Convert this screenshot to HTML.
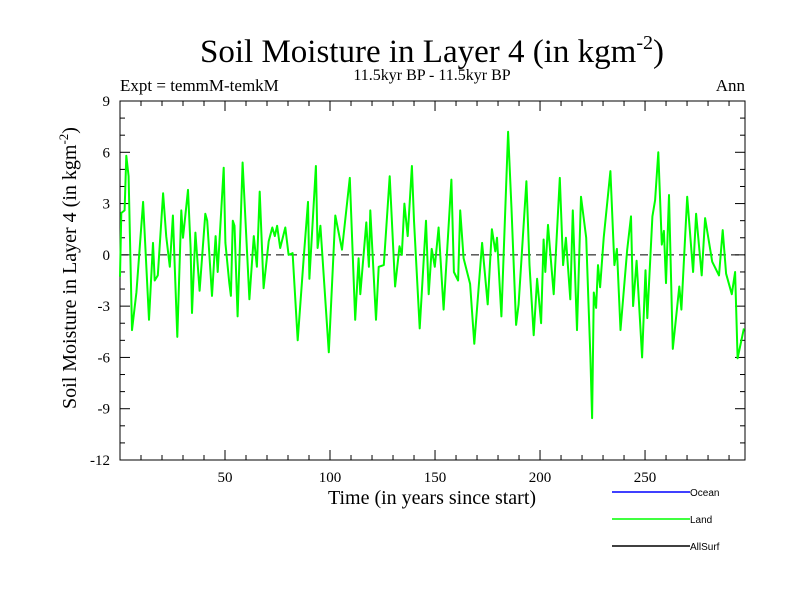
<!DOCTYPE html>
<html><head><meta charset="utf-8"><style>
body{margin:0;background:#fff}
svg text{font-family:"Liberation Serif",serif}
</style></head><body>
<svg id="c" width="800" height="600" xmlns="http://www.w3.org/2000/svg">
<text x="432" y="62" font-size="33" text-anchor="middle">Soil Moisture in Layer 4 (in kgm<tspan dy="-13" font-size="20">-2</tspan><tspan dy="13">)</tspan></text>
<text x="120" y="91" font-size="17">Expt = temmM-temkM</text>
<text x="432" y="80" font-size="16" text-anchor="middle">11.5kyr BP - 11.5kyr BP</text>
<text x="745" y="91" font-size="17" text-anchor="end">Ann</text>
<text transform="translate(76,268) rotate(-90)" font-size="20" text-anchor="middle">Soil Moisture in Layer 4 (in kgm<tspan dy="-8" font-size="13">-2</tspan><tspan dy="8">)</tspan></text>
<text x="432" y="504" font-size="20" text-anchor="middle">Time (in years since start)</text>
<g id="axes"></g>
<g id="series"></g>
<g font-family="Liberation Sans, sans-serif">
<line x1="612" y1="492" x2="690" y2="492" stroke="#0000ff" stroke-width="1.5"/>
<text x="690" y="496" font-size="10" style="font-family:'Liberation Sans',sans-serif">Ocean</text>
<line x1="612" y1="519" x2="690" y2="519" stroke="#00ff00" stroke-width="1.5"/>
<text x="690" y="523" font-size="10" style="font-family:'Liberation Sans',sans-serif">Land</text>
<line x1="612" y1="546" x2="690" y2="546" stroke="#000" stroke-width="1.5"/>
<text x="690" y="550" font-size="10" style="font-family:'Liberation Sans',sans-serif">AllSurf</text>
</g>
</svg>
<script>
const years=[0,0.6,2.2,3,4.1,5.7,7.8,11,13.8,15.7,16.5,18,20.5,22,23.7,25.2,27.3,29.2,30,32.4,33.6,34.3,35.9,37.9,40.6,41.5,43.8,45.5,46.5,49.4,50.2,52,52.8,53.7,54.5,56,58.4,61.6,63.7,65.2,66.5,68.4,70.8,72.5,73.7,74.8,76.3,78.7,80.3,82.2,84.6,87.5,89.5,90.2,93.3,94.1,95.4,99.4,102.5,105.7,109.4,112,113.6,114.4,117.3,118.5,119.2,121.9,123.2,125.6,128.4,131,133.1,134.2,135.4,137,139,140,142.7,145.7,147,148.4,149.9,151.7,154.1,157.8,159,161,162,163.6,166.7,168.7,172.4,175.1,177.1,178.7,179.5,181.6,184.8,186.4,188.6,189.8,193.5,195,197,198.6,200.5,201.7,202.5,203.8,206.5,209.4,211,212.3,214.4,215.6,217.6,219.5,222,224,224.8,225.6,226.7,227.6,228.6,230.3,233.5,235.4,236.6,238.3,241.5,243.3,244.3,246,248.6,250.2,251.1,253.5,254.8,256.3,258,259,260,261.4,263.2,266.3,267.3,270.1,272.9,274.3,277,278.6,282,285.2,287,288.6,291.3,292.9,294.1,297.1];
const landValues=[-1.27,2.45,2.6,5.8,4.6,-4.4,-2.2,3.1,-3.8,0.7,-1.5,-1.2,3.6,1.1,-0.7,2.3,-4.8,2.6,1.0,3.8,0.4,-3.4,1.3,-2.1,2.4,2.0,-2.4,1.1,-1.0,5.1,0.7,-1.6,-2.4,2.0,1.7,-3.6,5.4,-2.6,1.1,-0.7,3.7,-1.95,0.8,1.6,1.1,1.7,0.4,1.6,0,0.1,-5.0,-0.1,3.1,-1.4,5.2,0.4,1.7,-5.7,2.3,0.3,4.5,-3.8,-0.2,-2.3,1.9,-0.7,2.6,-3.8,-0.7,-0.6,4.6,-1.85,0.5,0,3.0,1.1,5.2,2.0,-4.3,2.0,-2.3,0.35,-0.7,1.6,-3.2,4.4,-1.0,-1.5,2.6,-0.2,-1.7,-5.2,0.7,-2.9,1.5,0.2,1.0,-3.6,7.2,2.7,-4.1,-2.9,4.3,-0.6,-4.7,-1.4,-4.0,0.9,-1.0,1.75,-2.3,4.5,-0.6,1.0,-2.6,2.6,-4.4,3.4,1.0,-6.0,-9.55,-2.2,-3.1,-0.6,-1.9,1.0,4.9,-0.6,0.35,-4.4,0.3,2.25,-3.0,-0.35,-6.0,-0.9,-3.7,2.25,3.2,6.0,0.6,1.4,-1.65,3.5,-5.5,-1.85,-3.2,3.4,-1.0,2.4,-1.2,2.15,-0.4,-1.2,1.45,-1.1,-2.3,-1.0,-6.05,-4.3];
const yTicks=[-12,-9,-6,-3,0,3,6,9];
const xTicks=[50,100,150,200,250];
const NS='http://www.w3.org/2000/svg';
const L=120,R=745,T=101,B=460,X0=0,X1=297.6,Y0=-12,Y1=9;
const sx=v=>L+(v-X0)/(X1-X0)*(R-L);
const sy=v=>B-(v-Y0)/(Y1-Y0)*(B-T);
const ax=document.getElementById('axes');
function mk(tag,attrs,parent){const e=document.createElementNS(NS,tag);for(const k in attrs)e.setAttribute(k,attrs[k]);parent.appendChild(e);return e;}
const frame=mk('rect',{x:L,y:T,width:R-L,height:B-T,fill:'none',stroke:'#000','stroke-width':1},ax);


for(let v=Y0;v<=Y1;v++){const big=(v%3===0);const y=sy(v);
 const t1=mk('line',{x1:L,x2:L+(big?10:5),y1:y,y2:y,stroke:'#000'},ax);
 
 
 const t2=mk('line',{x1:R,x2:R-(big?10:5),y1:y,y2:y,stroke:'#000'},ax);
 
 }
yTicks.forEach(v=>{const t=mk('text',{x:L-10,y:sy(v)+5,'font-size':15,'text-anchor':'end'},ax);t.textContent=v;
 
 });
for(let v=10;v<X1;v+=10){const big=(v%50===0);const x=sx(v);
 const t1=mk('line',{x1:x,x2:x,y1:B,y2:B-(big?10:5),stroke:'#000'},ax);
 
 
 const t2=mk('line',{x1:x,x2:x,y1:T,y2:T+(big?10:5),stroke:'#000'},ax);
 
 }
xTicks.forEach(v=>{const t=mk('text',{x:sx(v),y:B+22,'font-size':15,'text-anchor':'middle'},ax);t.textContent=v;
 
 });
const zl=mk('line',{x1:L,x2:R,y1:sy(0),y2:sy(0),stroke:'#000','stroke-dasharray':'8,5','stroke-width':1},ax);


const pts=years.map((y,i)=>sx(y).toFixed(1)+','+sy(landValues[i]).toFixed(1)).join(' ');
const pl=mk('polyline',{points:pts,fill:'none',stroke:'#00ff00','stroke-width':2,'stroke-linejoin':'round'},document.getElementById('series'));


</script>
</body></html>
